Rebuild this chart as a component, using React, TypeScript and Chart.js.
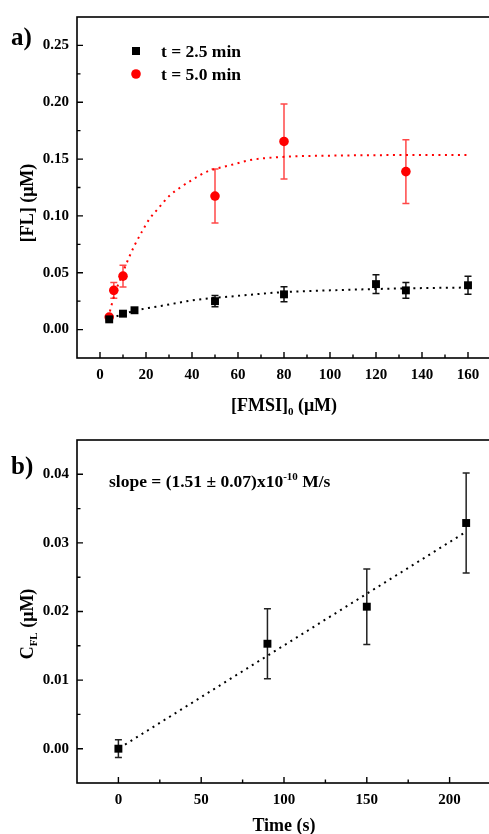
import React, { useEffect, useRef } from "react";
import { Chart, registerables } from "chart.js";
Chart.register(...registerables);

const FONT = '"Liberation Serif", "Times New Roman", serif';

// ---------- Panel a data ----------
const fmsi25 = [4, 10, 15, 50, 80, 120, 133, 160];
const fl25 = [0.009, 0.014, 0.017, 0.025, 0.031, 0.040, 0.0345, 0.039];
const fl25Err = [0.0015, 0.0015, 0.0015, 0.005, 0.0066, 0.0083, 0.007, 0.008];
const fmsi50 = [4, 6, 10, 50, 80, 133];
const fl50 = [0.011, 0.0345, 0.047, 0.1175, 0.1655, 0.139];
const fl50Err = [0.0015, 0.007, 0.0095, 0.0237, 0.033, 0.028];
const fit25X = [4.5, 10, 15, 21, 27, 33.5, 40, 50, 56, 70, 80, 100, 120, 140, 160];
const fit25Y = [0.010, 0.0135, 0.0165, 0.019, 0.021, 0.0234, 0.0257, 0.028, 0.029, 0.0315, 0.033, 0.0345, 0.0357, 0.0365, 0.037];
const fit50X = [4.3, 6.6, 8.4, 10.3, 12.3, 15, 18.2, 21.4, 25.5, 29.8, 34.9, 40.3, 46.5, 52.7, 58.5, 65, 80, 100, 130, 160];
const fit50Y = [0.016, 0.033, 0.042, 0.052, 0.062, 0.074, 0.086, 0.097, 0.107, 0.117, 0.125, 0.132, 0.139, 0.1427, 0.1456, 0.149, 0.152, 0.153, 0.1535, 0.1535];
const xMajorA = [0, 20, 40, 60, 80, 100, 120, 140, 160];
const xMinorA = [10, 30, 50, 70, 90, 110, 130, 150];
const yMajorA = [0, 0.05, 0.1, 0.15, 0.2, 0.25];
const yMinorA = [0.025, 0.075, 0.125, 0.175, 0.225];

// ---------- Panel b data ----------
const timeS = [0, 90, 150, 210];
const cfl = [0, 0.0153, 0.0207, 0.0329];
const cflErr = [0.0013, 0.0051, 0.0055, 0.0073];
const fitTX = [4, 208.5];
const fitTY = [0.0006, 0.0314];
const xMajorB = [0, 50, 100, 150, 200];
const xMinorB = [25, 75, 125, 175];
const yMajorB = [0, 0.01, 0.02, 0.03, 0.04];
const yMinorB = [0.005, 0.015, 0.025, 0.035];

type Part = { t: string; size: number; dy?: number };

function drawRich(ctx: CanvasRenderingContext2D, parts: Part[], x: number, y: number, align: "left" | "center") {
  let total = 0;
  const widths = parts.map((p) => {
    ctx.font = `bold ${p.size}px ${FONT}`;
    const w = ctx.measureText(p.t).width;
    total += w;
    return w;
  });
  let cx = align === "center" ? x - total / 2 : x;
  ctx.textAlign = "left";
  ctx.textBaseline = "alphabetic";
  parts.forEach((p, i) => {
    ctx.font = `bold ${p.size}px ${FONT}`;
    ctx.fillText(p.t, cx, y + (p.dy || 0));
    cx += widths[i];
  });
}

function pts(xs: number[], ys: number[]) {
  return xs.map((x, i) => ({ x, y: ys[i] }));
}

type ErrSet = { x: number[]; y: number[]; e: number[]; color: string };

function makeChart(
  canvas: HTMLCanvasElement,
  datasets: any[],
  xr: [number, number],
  yr: [number, number],
  xMaj: number[],
  xMin: number[],
  yMaj: number[],
  yMin: number[],
  yDigits: number,
  pad: { top: number; right: number },
  xAxisH: number,
  errs: ErrSet[],
  extra: (ctx: CanvasRenderingContext2D, chart: any) => void
) {
  const errPlugin = {
    id: "errbars",
    beforeDatasetsDraw(chart: any) {
      const ctx = chart.ctx as CanvasRenderingContext2D;
      const xs = chart.scales.x;
      const ys = chart.scales.y;
      errs.forEach((s) => {
        ctx.save();
        ctx.strokeStyle = s.color;
        ctx.lineWidth = 1.5;
        s.x.forEach((xv, i) => {
          const px = xs.getPixelForValue(xv);
          const top = ys.getPixelForValue(s.y[i] + s.e[i]);
          const bot = ys.getPixelForValue(s.y[i] - s.e[i]);
          ctx.beginPath();
          ctx.moveTo(px, top);
          ctx.lineTo(px, bot);
          ctx.moveTo(px - 3.5, top);
          ctx.lineTo(px + 3.5, top);
          ctx.moveTo(px - 3.5, bot);
          ctx.lineTo(px + 3.5, bot);
          ctx.stroke();
        });
        ctx.restore();
      });
    },
    afterDraw(chart: any) {
      const ctx = chart.ctx as CanvasRenderingContext2D;
      const a = chart.chartArea;
      const xs = chart.scales.x;
      const ys = chart.scales.y;
      ctx.save();
      ctx.strokeStyle = "#000";
      ctx.lineWidth = 1.6;
      ctx.strokeRect(a.left, a.top, a.right - a.left, a.bottom - a.top);
      ctx.lineWidth = 1.4;
      ctx.beginPath();
      xMaj.forEach((v) => {
        const p = xs.getPixelForValue(v);
        ctx.moveTo(p, a.bottom);
        ctx.lineTo(p, a.bottom - 6);
      });
      xMin.forEach((v) => {
        const p = xs.getPixelForValue(v);
        ctx.moveTo(p, a.bottom);
        ctx.lineTo(p, a.bottom - 3.5);
      });
      yMaj.forEach((v) => {
        const p = ys.getPixelForValue(v);
        ctx.moveTo(a.left, p);
        ctx.lineTo(a.left + 6, p);
      });
      yMin.forEach((v) => {
        const p = ys.getPixelForValue(v);
        ctx.moveTo(a.left, p);
        ctx.lineTo(a.left + 3.5, p);
      });
      ctx.stroke();
      ctx.fillStyle = "#000";
      extra(ctx, chart);
      ctx.restore();
    },
  };

  return new Chart(canvas, {
    type: "scatter",
    data: { datasets },
    options: {
      animation: false,
      responsive: false,
      devicePixelRatio: 1,
      layout: { padding: { left: 0, right: pad.right, top: pad.top, bottom: 0 } },
      plugins: { legend: { display: false }, tooltip: { enabled: false } },
      scales: {
        x: {
          type: "linear",
          min: xr[0],
          max: xr[1],
          grid: { display: false, drawTicks: false },
          border: { display: false },
          afterFit: (s: any) => {
            s.height = xAxisH;
          },
          afterBuildTicks: (s: any) => {
            s.ticks = xMaj.map((v) => ({ value: v }));
          },
          ticks: {
            padding: 8,
            color: "#000",
            font: { family: FONT, size: 15, weight: "bold" },
            callback: (v: any) => String(v),
          },
        },
        y: {
          type: "linear",
          min: yr[0],
          max: yr[1],
          grid: { display: false, drawTicks: false },
          border: { display: false },
          afterFit: (s: any) => {
            s.width = 77;
          },
          afterBuildTicks: (s: any) => {
            s.ticks = yMaj.map((v) => ({ value: v }));
          },
          ticks: {
            padding: 8,
            color: "#000",
            font: { family: FONT, size: 15, weight: "bold" },
            callback: (v: any) => Number(v).toFixed(yDigits),
          },
        },
      },
    },
    plugins: [errPlugin],
  } as any);
}

export default function App() {
  const refA = useRef<HTMLCanvasElement>(null);
  const refB = useRef<HTMLCanvasElement>(null);

  useEffect(() => {
    const red = "#ff0000";
    const chartA = makeChart(
      refA.current!,
      [
        {
          data: pts(fit25X, fit25Y),
          showLine: true,
          pointRadius: 0,
          borderColor: "#000",
          borderWidth: 2,
          borderDash: [2, 4.5],
          cubicInterpolationMode: "monotone",
        },
        {
          data: pts(fit50X, fit50Y),
          showLine: true,
          pointRadius: 0,
          borderColor: red,
          borderWidth: 2,
          borderDash: [2, 4.5],
          cubicInterpolationMode: "monotone",
        },
        {
          data: pts(fmsi25, fl25),
          pointStyle: "rect",
          pointRadius: 5.6,
          backgroundColor: "#000",
          borderColor: "#000",
          borderWidth: 0,
        },
        {
          data: pts(fmsi50, fl50),
          pointStyle: "circle",
          pointRadius: 4.8,
          backgroundColor: red,
          borderColor: red,
          borderWidth: 0,
        },
      ],
      [-10, 170],
      [-0.025, 0.275],
      xMajorA,
      xMinorA,
      yMajorA,
      yMinorA,
      2,
      { top: 15, right: 19 },
      62,
      [
        { x: fmsi25, y: fl25, e: fl25Err, color: "#111" },
        { x: fmsi50, y: fl50, e: fl50Err, color: "#ff4848" },
      ],
      (ctx, chart) => {
        ctx.font = `bold 25px ${FONT}`;
        ctx.textAlign = "left";
        ctx.textBaseline = "middle";
        ctx.fillText("a)", 11, 39);
        ctx.fillStyle = "#000";
        ctx.fillRect(132, 47, 8, 8);
        ctx.fillStyle = red;
        ctx.beginPath();
        ctx.arc(136, 74, 4.8, 0, Math.PI * 2);
        ctx.fill();
        ctx.fillStyle = "#000";
        ctx.font = `bold 17.5px ${FONT}`;
        ctx.textBaseline = "middle";
        ctx.fillText("t = 2.5 min", 161, 52);
        ctx.fillText("t = 5.0 min", 161, 75);
        drawRich(
          ctx,
          [
            { t: "[FMSI]", size: 18 },
            { t: "0", size: 11, dy: 4 },
            { t: " (\u03bcM)", size: 18 },
          ],
          284,
          411,
          "center"
        );
        ctx.save();
        ctx.translate(33, 203);
        ctx.rotate(-Math.PI / 2);
        drawRich(ctx, [{ t: "[FL] (\u03bcM)", size: 18 }], 0, 0, "center");
        ctx.restore();
      }
    );

    const chartB = makeChart(
      refB.current!,
      [
        {
          data: pts(fitTX, fitTY),
          showLine: true,
          pointRadius: 0,
          borderColor: "#000",
          borderWidth: 2,
          borderDash: [2, 4.5],
        },
        {
          data: pts(timeS, cfl),
          pointStyle: "rect",
          pointRadius: 5.6,
          backgroundColor: "#000",
          borderColor: "#000",
          borderWidth: 0,
        },
      ],
      [-25, 225],
      [-0.005, 0.045],
      xMajorB,
      xMinorB,
      yMajorB,
      yMinorB,
      2,
      { top: 20, right: 19 },
      51,
      [{ x: timeS, y: cfl, e: cflErr, color: "#222" }],
      (ctx, chart) => {
        ctx.font = `bold 25px ${FONT}`;
        ctx.textAlign = "left";
        ctx.textBaseline = "middle";
        ctx.fillText("b)", 11, 48);
        drawRich(
          ctx,
          [
            { t: "slope = (1.51 \u00b1 0.07)x10", size: 17.5 },
            { t: "-10", size: 11, dy: -7 },
            { t: " M/s", size: 17.5 },
          ],
          109,
          67,
          "left"
        );
        drawRich(ctx, [{ t: "Time (s)", size: 18 }], 284, 411, "center");
        ctx.save();
        ctx.translate(33, 204);
        ctx.rotate(-Math.PI / 2);
        drawRich(
          ctx,
          [
            { t: "C", size: 18 },
            { t: "FL", size: 11, dy: 4 },
            { t: " (\u03bcM)", size: 18 },
          ],
          0,
          0,
          "center"
        );
        ctx.restore();
      }
    );

    return () => {
      chartA.destroy();
      chartB.destroy();
    };
  }, []);

  return (
    <div
      style={{
        position: "absolute",
        left: 0,
        top: 0,
        width: 489,
        height: 834,
        overflow: "hidden",
        background: "#fff",
      }}
    >
      <canvas
        ref={refA}
        width={510}
        height={420}
        style={{ position: "absolute", left: 0, top: 0, width: 510, height: 420, display: "block" }}
      />
      <canvas
        ref={refB}
        width={510}
        height={414}
        style={{ position: "absolute", left: 0, top: 420, width: 510, height: 414, display: "block" }}
      />
    </div>
  );
}
